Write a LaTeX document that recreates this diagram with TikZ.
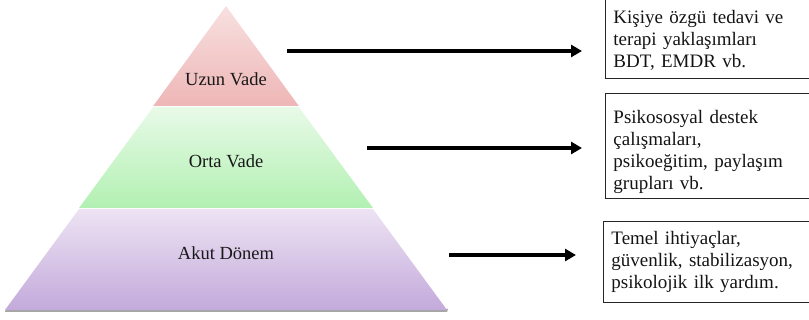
\documentclass[tikz,border=0pt]{standalone}
\usepackage{fontspec}
\setmainfont{Liberation Serif}
\usetikzlibrary{arrows.meta}
\begin{document}
\begin{tikzpicture}[x=1pt,y=-1pt,
  band/.style={font=\fontsize{18.5}{20}\selectfont, text=black!90},
  infobox/.style={draw=black!85, line width=0.9pt, anchor=north west, align=left,
    text width=215pt, inner xsep=8pt, inner ysep=2pt,
    font=\fontsize{19}{22}\selectfont, text=black!92},
  arr/.style={line width=3.4pt, -{Triangle[length=11pt,width=12pt]}}]
\useasboundingbox (0,0) rectangle (809,320);
\clip (0,0) rectangle (809,320);
\definecolor{pinkT}{HTML}{F8E0E0}
\definecolor{pinkB}{HTML}{EEB6B6}
\definecolor{greenT}{HTML}{E8FAE8}
\definecolor{greenB}{HTML}{B2F0B2}
\definecolor{purT}{HTML}{EDE3F3}
\definecolor{purB}{HTML}{C3AADB}
% shadow
\fill[black!35] (6,309) -- (448,309) -- (447,312) -- (5,312) -- cycle;
% bands
\shade[top color=pinkT, bottom color=pinkB] (226,6) -- (298.8,106) -- (153.2,106) -- cycle;
\shade[top color=greenT, bottom color=greenB] (153.2,107) -- (298.8,107) -- (373,208) -- (79,208) -- cycle;
\shade[top color=purT, bottom color=purB] (79,209) -- (373,209) -- (447,310) -- (5,310) -- cycle;
% labels
\node[band] (uzun) at (226,79) {Uzun Vade};
\node[band] (orta) at (226,161) {Orta Vade};
\node[band] (akut) at (226,253) {Akut Dönem};
% boxes
\node[infobox, minimum height=80pt] (b1) at (605,-2) {\rule{0pt}{17pt}Kişiye özgü tedavi ve\\terapi yaklaşımları\\BDT, EMDR vb.};
\node[infobox, minimum height=105pt] (b2) at (605,93) {\rule{0pt}{25pt}Psikososyal destek\\çalışmaları,\\psikoeğitim, paylaşım\\grupları vb.};
\node[infobox, minimum height=81pt] (b3) at (603,221) {Temel ihtiyaçlar,\\güvenlik, stabilizasyon,\\psikolojik ilk yardım.};
% arrows
\coordinate (a1s) at (287,51);
\coordinate (a1e) at (582,51);
\coordinate (a2s) at (367,148);
\coordinate (a2e) at (582,148);
\coordinate (a3s) at (449,255);
\coordinate (a3e) at (576,255);
\draw[arr] (a1s) -- (a1e);
\draw[arr] (a2s) -- (a2e);
\draw[arr] (a3s) -- (a3e);
\end{tikzpicture}
\end{document}
